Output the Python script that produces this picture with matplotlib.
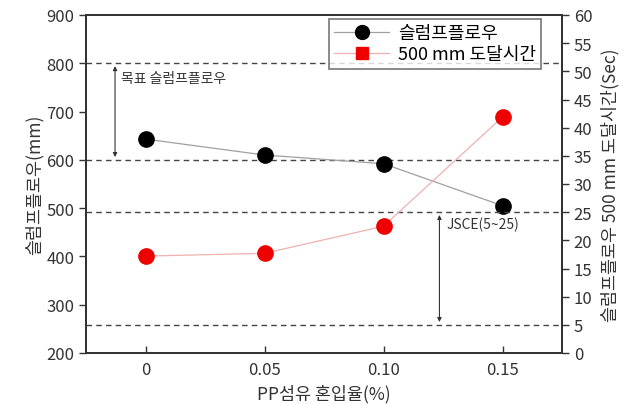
import matplotlib
matplotlib.use("Agg")
import matplotlib.pyplot as plt

plt.rcParams['font.family'] = ['Noto Sans CJK KR', 'DejaVu Sans']

x_vals = [0, 0.05, 0.10, 0.15]
x_labels = ['0', '0.05', '0.10', '0.15']
slump_flow = [643, 610, 592, 505]
time_500 = [17.2, 17.7, 22.5, 41.9]
target_lines = [800, 600]
jsce_lines = [25, 5]

fig = plt.figure(figsize=(6.38, 4.06), dpi=100)
ax = fig.add_axes([86/638, 1-354/406, (562-86)/638, (354-16)/406])
ax2 = ax.twinx()

for s in (ax, ax2):
    for sp in s.spines.values():
        sp.set_linewidth(1.4)
        sp.set_color('#333333')

l1, = ax.plot(x_vals, slump_flow, color='#a0a0a0', lw=0.9, marker='o', ms=11,
              mfc='black', mec='black', zorder=5)
l2, = ax2.plot(x_vals, time_500, color='#f0b0b0', lw=0.9, marker='o', ms=11,
               mfc='#ee0000', mec='#ee0000', zorder=5)

for v in target_lines:
    ax.axhline(v, color='#444444', ls=(0, (4, 3)), lw=1.0, zorder=1)
for v in jsce_lines:
    ax2.axhline(v, color='#444444', ls=(0, (4, 3)), lw=1.0, zorder=1)

ax.set_xlim(-0.025, 0.175)
ax.set_ylim(200, 900)
ax2.set_ylim(0, 60)
ax.set_xticks(x_vals)
ax.set_xticklabels(x_labels)
ax.set_yticks(range(200, 901, 100))
ax2.set_yticks(range(0, 61, 5))

ax.tick_params(axis='x', direction='in', length=5, width=1, colors='#333333', labelsize=12, pad=6)
ax.tick_params(axis='y', direction='out', length=5, width=1, colors='#333333', labelsize=12)
ax2.tick_params(axis='y', direction='out', length=5, width=1, colors='#333333', labelsize=12)

ax.set_xlabel('PP섬유 혼입율(%)', fontsize=12.5, color='#333333')
ax.set_ylabel('슬럼프플로우(mm)', fontsize=12.5, color='#333333', labelpad=2)
ax2.set_ylabel('슬럼프플로우 500 mm 도달시간(Sec)', fontsize=12.5, color='#333333', labelpad=6)

# annotations
ax.annotate('', xy=(-0.0128, 800), xytext=(-0.0128, 600),
            arrowprops=dict(arrowstyle='<|-|>', color='#333333', lw=0.8, mutation_scale=6))
ax.text(-0.0105, 770, '목표 슬럼프플로우', fontsize=10, color='#333333', va='center')
ax2.annotate('', xy=(0.1235, 25), xytext=(0.1235, 5),
             arrowprops=dict(arrowstyle='<|-|>', color='#333333', lw=0.8, mutation_scale=6))
ax2.text(0.1265, 23.0, 'JSCE(5~25)', fontsize=10, color='#333333', va='center')

h1 = plt.Line2D([], [], color='#a0a0a0', lw=0.9, marker='o', ms=10, mfc='black', mec='black')
h2 = plt.Line2D([], [], color='#f0b0b0', lw=0.9, marker='s', ms=9, mfc='#ee0000', mec='#ee0000')
leg = ax2.legend([h1, h2], ['슬럼프플로우', '500 mm 도달시간'], loc='upper right',
                 bbox_to_anchor=(0.956, 0.988), fontsize=13, frameon=True, fancybox=False,
                 edgecolor='#555555', handlelength=3.0, borderpad=0.3, labelspacing=0.15,
                 handletextpad=0.5, borderaxespad=0)
leg.get_frame().set_linewidth(1.2)
leg.set_zorder(10)

fig.savefig('out.png', dpi=100)
